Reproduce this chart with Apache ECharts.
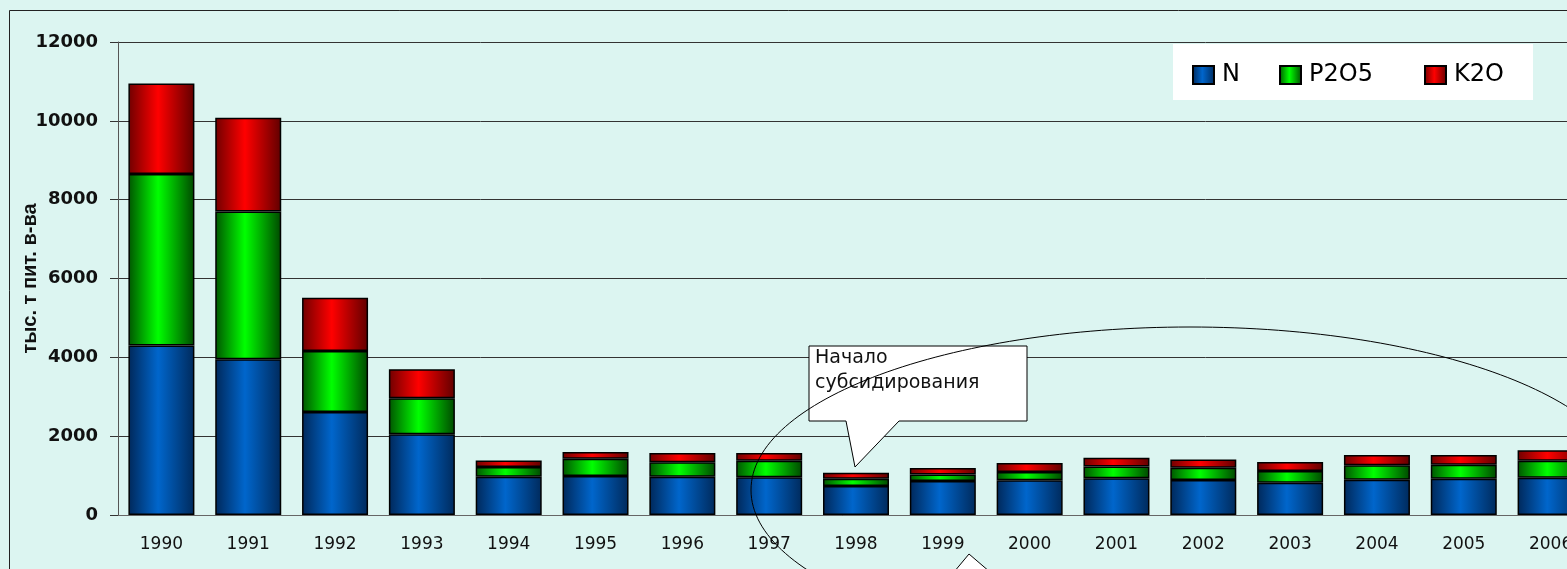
<!DOCTYPE html>
<html>
<head>
<meta charset="utf-8">
<script src="https://cdn.jsdelivr.net/npm/echarts@6/dist/echarts.min.js"></script>
<style>
  html, body { margin: 0; padding: 0; background: #dcf5f1; }
  #chart { width: 1567px; height: 569px; }
</style>
</head>
<body>
<div id="chart"></div>
<script>
const years = ['1990', '1991', '1992', '1993', '1994', '1995', '1996', '1997', '1998',
  '1999', '2000', '2001', '2002', '2003', '2004', '2005', '2006']
const nValues = [4300, 3950, 2610, 2050, 970, 990, 970, 955, 735, 860, 880, 930, 890, 820, 895, 920, 945]
const pValues = [4350, 3750, 1550, 910, 245, 440, 370, 420, 185, 170, 210, 300, 310, 295, 370, 355, 430]
const kValues = [2300, 2380, 1350, 735, 170, 170, 230, 195, 150, 160, 230, 220, 210, 230, 255, 245, 270]
const yTicks = [0, 2000, 4000, 6000, 8000, 10000, 12000]
const seriesNames = ['N', 'P2O5', 'K2O']

const chart = echarts.init(document.getElementById('chart'))

// горизонтальный градиент: тёмные края, светлая середина
const grad = (dark, light, dark2) => new echarts.graphic.LinearGradient(0, 0, 1, 0, [
  {offset: 0, color: dark},
  {offset: 0.45, color: light},
  {offset: 1, color: dark2}
])

const barSeries = (name, data, color) => ({
  name: name,
  type: 'bar',
  stack: 'total',
  data: data,
  barWidth: 66,
  itemStyle: {
    color: color,
    borderColor: '#000',
    borderWidth: 1.5
  }
})

const legendItem = (name, left) => ({
  left: left,
  top: 63,
  padding: 0,
  itemWidth: 21,
  itemHeight: 18,
  icon: 'rect',
  textStyle: {fontSize: 24, color: '#000', fontFamily: 'DejaVu Sans', padding: [0, 0, 0, 3]},
  data: [name]
})

chart.setOption({
  backgroundColor: '#dcf5f1',
  animation: false,
  textStyle: {fontFamily: 'DejaVu Sans'},
  grid: {left: 118, top: 42, width: 1476, bottom: 54, outerBoundsMode: 'none'},
  legend: [
    legendItem(seriesNames[0], 1192),
    legendItem(seriesNames[1], 1279),
    legendItem(seriesNames[2], 1424)
  ],
  xAxis: {
    type: 'category',
    data: years,
    axisLine: {lineStyle: {color: '#666', width: 1}},
    axisTick: {length: 7, lineStyle: {color: '#555'}},
    axisLabel: {fontSize: 17, color: '#111', margin: 21}
  },
  yAxis: {
    type: 'value',
    min: yTicks[0],
    max: yTicks[yTicks.length - 1],
    interval: 2000,
    name: 'тыс. т пит. в-ва',
    nameLocation: 'middle',
    nameGap: 78,
    nameMoveOverlap: false,
    nameTextStyle: {fontSize: 20, fontWeight: 'bold', color: '#111', fontFamily: 'Liberation Sans'},
    axisLine: {show: true, lineStyle: {color: '#555'}},
    axisTick: {show: true, length: 8, lineStyle: {color: '#333'}},
    axisLabel: {fontSize: 18, fontWeight: 'bold', color: '#111', margin: 20, formatter: v => String(v)},
    splitLine: {lineStyle: {color: '#333', width: 1}}
  },
  series: [
    barSeries(seriesNames[0], nValues, grad('#00285a', '#0066cc', '#002a5c')),
    barSeries(seriesNames[1], pValues, grad('#005500', '#00ff00', '#004800')),
    barSeries(seriesNames[2], kValues, grad('#700000', '#ff0000', '#600000'))
  ],
  graphic: [
    {
      type: 'rect',
      shape: {x: 9.5, y: 10.5, width: 1700, height: 700},
      style: {fill: null, stroke: '#222', lineWidth: 1},
      silent: true, z: 10
    },
    {
      type: 'rect',
      shape: {x: 1173, y: 44, width: 360, height: 56},
      style: {fill: '#fff'},
      silent: true, z: -1
    },
    {
      type: 'polygon',
      shape: {points: [[809, 346], [1027, 346], [1027, 421], [899, 421], [855, 467], [846, 421], [809, 421]]},
      style: {fill: '#fff', stroke: '#000', lineWidth: 1},
      z: 20
    },
    {
      type: 'text',
      left: 815,
      top: 346,
      style: {
        text: 'Начало\nсубсидирования',
        fontSize: 19,
        lineHeight: 25,
        fill: '#111',
        fontFamily: 'DejaVu Sans'
      },
      z: 21
    },
    {
      type: 'polygon',
      shape: {points: [[954, 572], [969, 554], [990, 572]]},
      style: {fill: '#fff', stroke: '#000', lineWidth: 1},
      z: 20
    },
    {
      type: 'ellipse',
      shape: {cx: 1190, cy: 490, rx: 439, ry: 163},
      style: {fill: null, stroke: '#000', lineWidth: 1},
      z: 22
    }
  ]
})
</script>
</body>
</html>
